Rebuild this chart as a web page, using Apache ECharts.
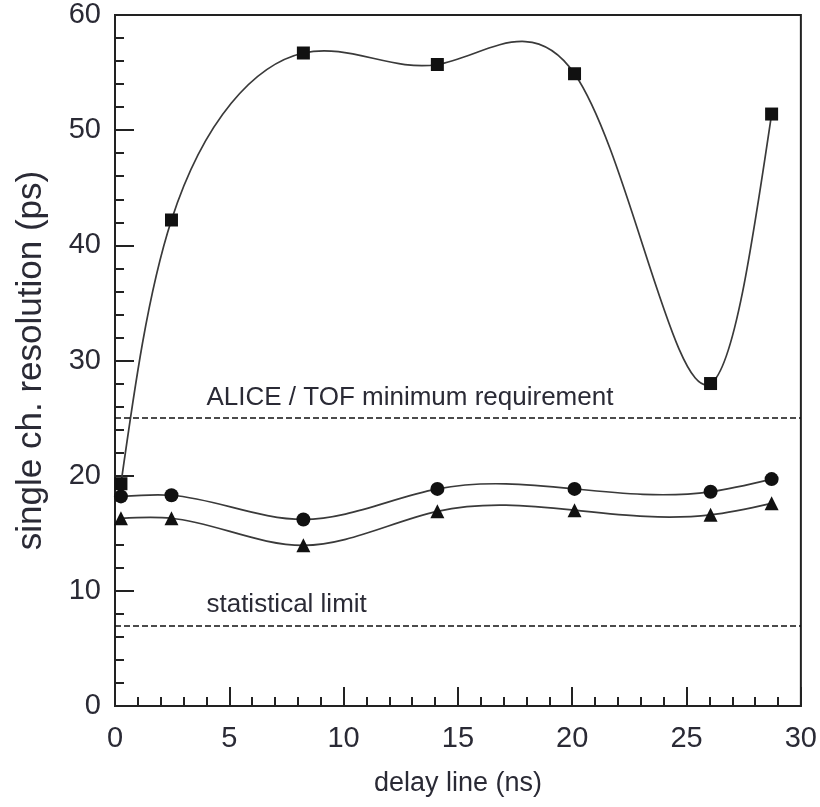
<!DOCTYPE html>
<html><head><meta charset="utf-8">
<script src="https://cdn.jsdelivr.net/npm/echarts@6/dist/echarts.min.js"></script>
<style>html,body{margin:0;padding:0;background:#fff}#c{width:820px;height:807px}</style>
</head><body><div id="c"></div>
<script>
// ---- data ----
const delayNs      = [0.26, 2.47, 8.24, 14.1, 20.1, 26.05, 28.72];
const resSquares   = [19.3, 42.2, 56.7, 55.7, 54.9, 28.0, 51.4];
const resCircles   = [18.2, 18.3, 16.2, 18.85, 18.85, 18.6, 19.7];
const resTriangles = [16.3, 16.3, 13.95, 16.9, 17.0, 16.6, 17.6];
const refLevels    = [25, 7];
const refLabels    = ['ALICE / TOF minimum requirement', 'statistical limit'];
const refLabelPos  = [[4.0, 26.8], [4.0, 8.75]];

const FONT = 'Liberation Sans, Arial, Helvetica, sans-serif';
const INK = '#222';
const TXT = '#2a2a35';
const Y_WEIGHT = 0.35; // weight of vertical distance in the curve parametrisation

function pairs(xs, ys) { return xs.map((x, i) => [x, ys[i]]); }

function naturalM(t, v) {
  const n = t.length, h = [];
  for (let i = 0; i < n - 1; i++) h.push(t[i + 1] - t[i]);
  const a = new Array(n).fill(0), b = new Array(n).fill(1), c = new Array(n).fill(0), r = new Array(n).fill(0);
  for (let i = 1; i < n - 1; i++) {
    a[i] = h[i - 1] / 6; b[i] = (h[i - 1] + h[i]) / 3; c[i] = h[i] / 6;
    r[i] = (v[i + 1] - v[i]) / h[i] - (v[i] - v[i - 1]) / h[i - 1];
  }
  const cp = new Array(n).fill(0), dp = new Array(n).fill(0);
  cp[0] = c[0] / b[0]; dp[0] = r[0] / b[0];
  for (let i = 1; i < n; i++) {
    const m = b[i] - a[i] * cp[i - 1];
    cp[i] = c[i] / m; dp[i] = (r[i] - a[i] * dp[i - 1]) / m;
  }
  const M = new Array(n).fill(0);
  M[n - 1] = dp[n - 1];
  for (let i = n - 2; i >= 0; i--) M[i] = dp[i] - cp[i] * M[i + 1];
  return { M: M, h: h };
}

// parametric natural cubic spline through pixel points, as exact Bezier segments
function splinePath(pts) {
  const n = pts.length;
  const x = pts.map(p => p[0]), y = pts.map(p => p[1]);
  const t = [0];
  for (let i = 1; i < n; i++) t.push(t[i - 1] + Math.hypot(x[i] - x[i - 1], Y_WEIGHT * (y[i] - y[i - 1])));
  const sx = naturalM(t, x), sy = naturalM(t, y);
  const h = sx.h;
  function ders(v, M, i) {
    const hi = h[i], s = (v[i + 1] - v[i]) / hi;
    return [s - hi * (2 * M[i] + M[i + 1]) / 6, s + hi * (M[i] + 2 * M[i + 1]) / 6];
  }
  let d = 'M' + x[0] + ' ' + y[0];
  for (let i = 0; i < n - 1; i++) {
    const hi = h[i];
    const dx = ders(x, sx.M, i), dy = ders(y, sy.M, i);
    d += ' C' + (x[i] + dx[0] * hi / 3) + ' ' + (y[i] + dy[0] * hi / 3) + ' ' +
         (x[i + 1] - dx[1] * hi / 3) + ' ' + (y[i + 1] - dy[1] * hi / 3) + ' ' +
         x[i + 1] + ' ' + y[i + 1];
  }
  return d;
}

function curveSeries(ys) {
  return {
    type: 'custom', coordinateSystem: 'cartesian2d', z: 2, silent: true,
    data: pairs(delayNs, ys),
    renderItem: function (params, api) {
      if (params.dataIndex !== 0) return null;
      const pts = delayNs.map((xv, i) => api.coord([xv, ys[i]]));
      return { type: 'path', shape: { pathData: splinePath(pts) },
               style: { fill: 'none', stroke: '#3a3a3a', lineWidth: 1.7 } };
    }
  };
}

function markerSeries(ys, symbol, size) {
  return { type: 'scatter', z: 4, symbol: symbol, symbolSize: size, data: pairs(delayNs, ys),
           itemStyle: { color: '#111', opacity: 1 } };
}

const chart = echarts.init(document.getElementById('c'), null, { renderer: 'canvas' });
const axisCommon = {
  axisLine: { show: true, lineStyle: { color: INK, width: 2 } },
  axisTick: { show: true, inside: true, length: 19, lineStyle: { color: INK, width: 2 } },
  minorTick: { show: true, splitNumber: 5, length: 9, lineStyle: { color: INK, width: 2 } },
  splitLine: { show: false },
  axisLabel: { fontSize: 29, color: TXT, fontFamily: FONT }
};
chart.setOption({
  animation: false,
  backgroundColor: '#fff',
  grid: { left: 115, right: 13, top: 15, bottom: 101, show: true, borderColor: INK, borderWidth: 2 },
  xAxis: Object.assign({}, axisCommon, {
    type: 'value', min: 0, max: 30, interval: 5,
    name: 'delay line (ns)', nameLocation: 'middle', nameGap: 64,
    nameTextStyle: { fontSize: 27, color: TXT, fontFamily: FONT },
    axisLabel: Object.assign({}, axisCommon.axisLabel, { margin: 18 })
  }),
  yAxis: Object.assign({}, axisCommon, {
    type: 'value', min: 0, max: 60, interval: 10,
    name: 'single ch. resolution (ps)', nameLocation: 'middle', nameGap: 66,
    nameTextStyle: { fontSize: 35, color: TXT, fontFamily: FONT },
    axisLabel: Object.assign({}, axisCommon.axisLabel, { margin: 14 })
  }),
  series: [
    curveSeries(resSquares), curveSeries(resCircles), curveSeries(resTriangles),
    markerSeries(resSquares, 'rect', 13),
    markerSeries(resCircles, 'circle', 14),
    markerSeries(resTriangles, 'triangle', 14),
    {
      type: 'line', data: [], z: 1,
      markLine: {
        silent: true, symbol: 'none', label: { show: false },
        lineStyle: { color: '#111', width: 1.6, type: [6, 3] },
        data: refLevels.map(v => ({ yAxis: v }))
      }
    }
  ]
});
const texts = refLabels.map((t, i) => {
  const p = chart.convertToPixel({ gridIndex: 0 }, refLabelPos[i]);
  return { type: 'text', x: p[0], y: p[1],
           style: { text: t, fontSize: 26, fill: TXT, fontFamily: FONT, align: 'left', verticalAlign: 'middle' } };
});
chart.setOption({ graphic: texts });
</script></body></html>
